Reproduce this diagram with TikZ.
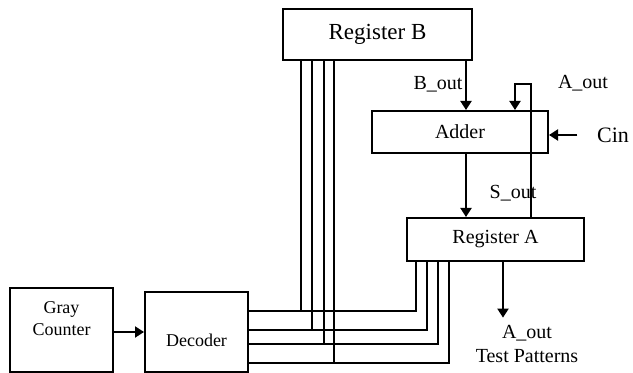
\documentclass[tikz,border=0pt]{standalone}
\usepackage{fontspec}
\setmainfont{Liberation Serif}
\usetikzlibrary{arrows.meta}

\tikzset{
  block/.style={draw, rectangle, line width=1pt, inner sep=0pt},
  >={Triangle[length=4.5pt,width=5.5pt]}
}

\begin{document}
\begin{tikzpicture}[x=0.5pt, y=-0.5pt, line width=1pt]
 \useasboundingbox (0,0) rectangle (633,373);

 \node[block, minimum width=94.5pt, minimum height=25.5pt, font=\fontsize{11.5}{13}\selectfont] (regB) at (377.5,34.5) {Register B};
 \node[block, minimum width=88pt, minimum height=21pt] (adder) at (460,132) {Adder};
 \node[block, minimum width=88.5pt, minimum height=21.5pt] (regA) at (495.5,239.5) {Register A};
 \node[block, minimum width=51.5pt, minimum height=42pt,
       label={[align=center, font=\small, yshift=5.5pt]center:Gray\\Counter}] (gray) at (61.5,330) {};
 \node[block, minimum width=51.5pt, minimum height=40pt,
       label={[font=\small, yshift=-4pt]center:Decoder}] (dec) at (196.5,332) {};

 \node (bout) at (438,84) {B\_out};
 \node (aout) at (583,83) {A\_out};
 \node[font=\fontsize{11}{13}\selectfont] (cin) at (613,135) {Cin};
 \node (sout) at (513,193) {S\_out};
 \node[align=center] (tp) at (527,344) {A\_out\\Test Patterns};

 \draw[->] (regB.south -| 466,0) -- (adder.north -| 466,0);
 \draw[->] (regA.north -| 531,0) -- (531,84) -| (adder.north -| 515,0);
 \draw[->] ([xshift=-6pt]cin.west) -- (adder.east |- cin.west);
 \draw[->] (adder.south -| 466,0) -- (regA.north -| 466,0);
 \draw[->] (regA.south -| 503,0) -- (tp.north -| 503,0);
 \draw[->] (gray.east |- dec.west) -- (dec.west);

 \foreach \xb/\y/\xa in {301/311/416, 312/330/427, 324/344/438, 334/363/449} {
   \draw (regB.south -| \xb,0) -- (\xb,\y);
   \draw (dec.east |- 0,\y) -| (regA.south -| \xa,0);
 }
\end{tikzpicture}
\end{document}
